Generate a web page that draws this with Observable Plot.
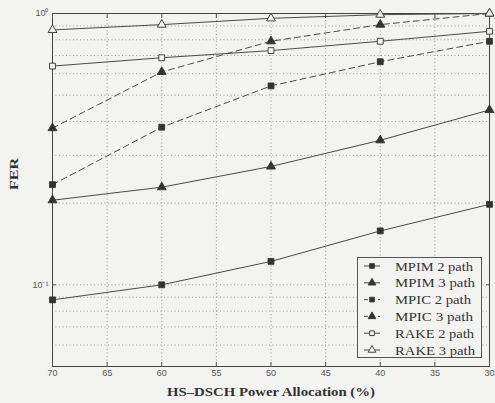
<!DOCTYPE html>
<html><head><meta charset="utf-8">
<script src="https://cdn.jsdelivr.net/npm/d3@7"></script>
<script src="https://cdn.jsdelivr.net/npm/@observablehq/plot@0.6"></script>
<style>
body{margin:0;background:#f3f3f1;}
#wrap{position:relative;width:495px;height:403px;}
#legend{position:absolute;left:357px;top:257px;width:125px;height:101px;border:1px solid #555;background:#f3f3f1;box-sizing:border-box;}
</style></head>
<body><div id="wrap"><div id="legend"></div></div>
<script>
const power = [70, 60, 50, 40, 30];
const mpim2 = [0.088, 0.100, 0.122, 0.158, 0.198];
const mpim3 = [0.205, 0.229, 0.273, 0.341, 0.441];
const mpic2 = [0.234, 0.381, 0.541, 0.664, 0.79];
const mpic3 = [0.378, 0.609, 0.79, 0.91, 1.0];
const rake2 = [0.64, 0.687, 0.73, 0.79, 0.86];
const rake3 = [0.87, 0.91, 0.96, 0.99, 1.0];
const seriesNames = ["MPIM 2 path", "MPIM 3 path", "MPIC 2 path", "MPIC 3 path", "RAKE 2 path", "RAKE 3 path"];
const xTicks = [70, 65, 60, 55, 50, 45, 40, 35, 30];
const yMajor = [1, 0.1];
const yMajorLabels = ["10\u2070", "10\u207B\u00B9"];
const yGrid = [0.05, 0.06, 0.07, 0.08, 0.09, 0.1, 0.2, 0.3, 0.4, 0.5, 0.6, 0.7, 0.8, 0.9];
const xLabel = "HS\u2013DSCH Power Allocation (%)";
const yLabel = "FER";

const styles = [
  {symbol: "square", fill: "#333", dash: null},
  {symbol: "triangle", fill: "#333", dash: null},
  {symbol: "square", fill: "#333", dash: "6,4"},
  {symbol: "triangle", fill: "#333", dash: "6,4"},
  {symbol: "square", fill: "#f3f3f1", dash: null},
  {symbol: "triangle", fill: "#f3f3f1", dash: null}
];
const values = [mpim2, mpim3, mpic2, mpic3, rake2, rake3];
const data = [];
values.forEach((arr, i) => arr.forEach((v, j) => data.push({series: seriesNames[i], x: power[j], y: v, i})));

const lineColor = "#4a4a4a";
const marks = [
  Plot.ruleY(yGrid, {stroke: "#888", strokeDasharray: "1,2.5", strokeWidth: 0.8}),
  Plot.ruleX(xTicks.slice(1, -1), {stroke: "#888", strokeDasharray: "1,2.5", strokeWidth: 0.8}),
  Plot.frame({stroke: "#444", strokeWidth: 1}),
  Plot.axisX({ticks: xTicks, tickSize: -4, tickPadding: 7, fontSize: 9, fill: "#555", fontFamily: "Liberation Sans", label: null, stroke: "#555"}),
  Plot.axisX({anchor: "top", ticks: xTicks, tickSize: -4, tickFormat: () => "", label: null, stroke: "#555"}),
  Plot.axisY({ticks: yMajor, tickSize: -4, tickPadding: 8, tickFormat: (d) => yMajorLabels[yMajor.indexOf(d)], fontSize: 9, fill: "#555", fontFamily: "Liberation Sans", label: null, stroke: "#555"}),
  Plot.axisY({anchor: "right", ticks: yMajor, tickSize: -4, tickFormat: () => "", label: null, stroke: "#555"}),
];
styles.forEach((s, i) => {
  const d = data.filter(r => r.i === i);
  marks.push(Plot.line(d, {x: "x", y: "y", stroke: lineColor, strokeWidth: 1, strokeDasharray: s.dash}));
});
styles.forEach((s, i) => {
  const d = data.filter(r => r.i === i);
  marks.push(Plot.dot(d, {x: "x", y: "y", symbol: () => s.symbol, r: 3.3, fill: s.fill, stroke: "#333", strokeWidth: 0.9}));
});
marks.push(Plot.text([xLabel], {frameAnchor: "bottom", dy: 29, fontSize: 12.5, fontWeight: "bold", fontFamily: "Liberation Serif", fill: "#333", className: "xlab"}));
marks.push(Plot.text([yLabel], {frameAnchor: "left", dx: -39, rotate: -90, fontSize: 13, fontWeight: "bold", fontFamily: "Liberation Serif", fill: "#333", className: "ylab"}));

const chart = Plot.plot({
  width: 495,
  height: 403,
  marginLeft: 52,
  marginRight: 6,
  marginTop: 13,
  marginBottom: 37,
  style: {background: "#f3f3f1"},
  x: {domain: [70, 30], axis: null},
  y: {type: "log", domain: [0.05, 1], axis: null},
  symbol: {type: "identity"},
  marks
});
document.getElementById("wrap").prepend(chart);
d3.select(chart).selectAll(".xlab text").attr("textLength", 208).attr("lengthAdjust", "spacingAndGlyphs");
d3.select(chart).selectAll(".ylab text").attr("textLength", 32).attr("lengthAdjust", "spacingAndGlyphs");

// legend
const legWidths = [78, 80, 76, 78, 79, 80];
const leg = d3.select("#legend").append("svg").attr("width", 125).attr("height", 101);
seriesNames.forEach((name, i) => {
  const s = styles[i];
  const y = 8 + i * 16.8;
  leg.append("line").attr("x1", 6).attr("x2", 22).attr("y1", y).attr("y2", y)
    .attr("stroke", lineColor).attr("stroke-width", 1).attr("stroke-dasharray", s.dash ? "4,3" : null);
  const sym = s.symbol === "square" ? d3.symbolSquare : d3.symbolTriangle;
  leg.append("path").attr("d", d3.symbol(sym, s.symbol === "square" ? 22 : 26)())
    .attr("transform", `translate(14,${y})`).attr("fill", s.fill).attr("stroke", "#333").attr("stroke-width", 0.9);
  leg.append("text").attr("x", 37).attr("y", y + 4.5).text(name)
    .attr("font-family", "Liberation Serif").attr("font-size", 13.5).attr("fill", "#333")
    .attr("textLength", legWidths[i]).attr("lengthAdjust", "spacingAndGlyphs");
});
</script>
</body></html>
